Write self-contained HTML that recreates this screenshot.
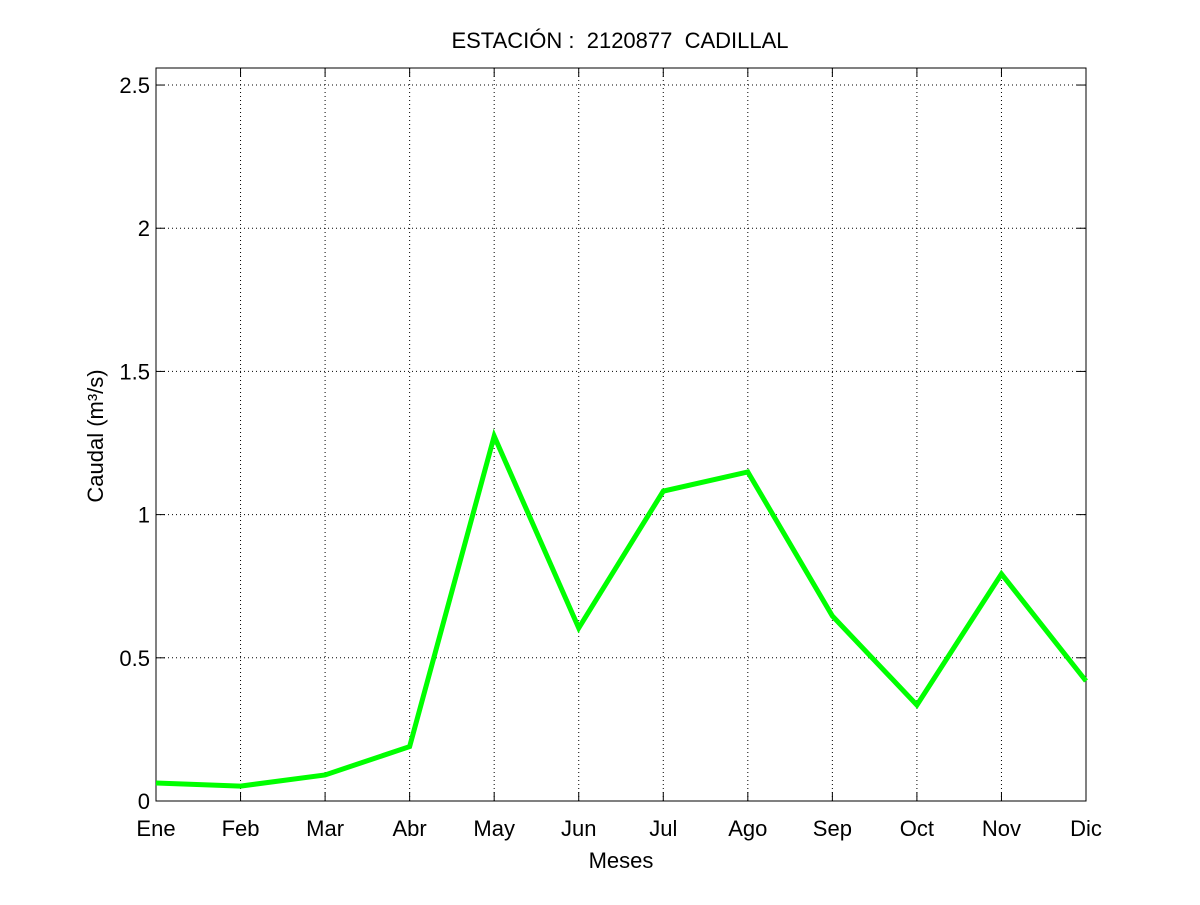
<!DOCTYPE html>
<html><head><meta charset="utf-8"><style>
body{margin:0;background:#fff;}
svg text{font-family:"Liberation Sans",sans-serif;fill:#000;}
</style></head><body>
<svg id="chart" width="1200" height="900" xmlns="http://www.w3.org/2000/svg"></svg>
<script>
const months = ["Ene","Feb","Mar","Abr","May","Jun","Jul","Ago","Sep","Oct","Nov","Dic"];
const caudal = [0.063,0.052,0.091,0.19,1.274,0.604,1.082,1.149,0.646,0.335,0.793,0.419];
const yTicks = [0,0.5,1,1.5,2,2.5];
const yTickLabels = ["0","0.5","1","1.5","2","2.5"];

const L=156,R=1086,T=68,B=801,YMAX=2.5595;
const xs=i=>L+(R-L)*i/(months.length-1);
const ys=v=>B-(B-T)*v/YMAX;
const svg=document.getElementById('chart');
const NS="http://www.w3.org/2000/svg";
function mk(tag,attrs,parent){const e=document.createElementNS(NS,tag);for(const k in attrs)e.setAttribute(k,attrs[k]);(parent||svg).appendChild(e);return e;}

const grid=mk('g',{});


months.forEach((m,i)=>{
  const x=xs(i);
  if(i>0&&i<months.length-1){mk('line',{x1:x,x2:x,y1:T,y2:B,stroke:'#000','stroke-width':1,'stroke-dasharray':'1,3'},grid);}
  mk('line',{x1:x,x2:x,y1:B,y2:B-9,stroke:'#000'},grid);
  mk('line',{x1:x,x2:x,y1:T,y2:T+9,stroke:'#000'},grid);
  const t=mk('text',{x:x,y:836,'text-anchor':'middle','font-size':22});
  t.textContent=m;
  
  
});
yTicks.forEach((v,i)=>{
  const y=ys(v);
  if(v>0){mk('line',{x1:L,x2:R,y1:y,y2:y,stroke:'#000','stroke-width':1,'stroke-dasharray':'1,3'},grid);}
  mk('line',{x1:L,x2:L+9,y1:y,y2:y,stroke:'#000'},grid);
  mk('line',{x1:R,x2:R-9,y1:y,y2:y,stroke:'#000'},grid);
  const t=mk('text',{x:150,y:y+8,'text-anchor':'end','font-size':22});
  t.textContent=yTickLabels[i];
  
  
});
const frame=mk('rect',{x:L,y:T,width:R-L,height:B-T,fill:'none',stroke:'#000','stroke-width':1});



const line=mk('polyline',{points:caudal.map((v,i)=>xs(i)+','+ys(v)).join(' '),fill:'none',stroke:'#00ff00','stroke-width':5,'stroke-linejoin':'miter'});



const title=mk('text',{x:620,y:48,'text-anchor':'middle','font-size':22,style:'white-space:pre'});
title.textContent='ESTACIÓN :  2120877  CADILLAL';


const xl=mk('text',{x:621,y:868,'text-anchor':'middle','font-size':22});
xl.textContent='Meses';


const yl=mk('text',{x:0,y:0,'text-anchor':'middle','font-size':22,transform:'translate(103,436) rotate(-90)'});
yl.textContent='Caudal (m³/s)';


</script>
</body></html>
